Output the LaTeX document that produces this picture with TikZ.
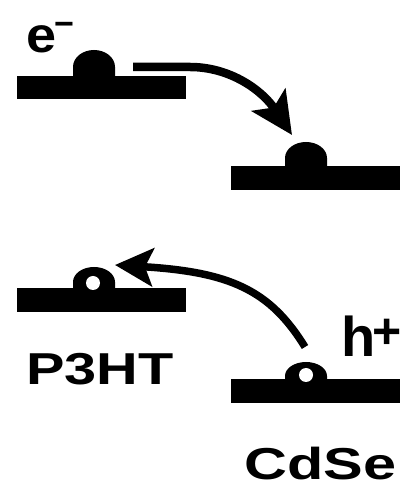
\documentclass[tikz,border=0pt]{standalone}
\usepackage{fontspec}
\usepackage{graphicx}
\setmainfont{Liberation Sans}
\usetikzlibrary{arrows.meta}

% energy-level bar with a carrier dome on top
\tikzset{
  level/.style={rectangle, fill=black, draw=none, inner sep=0pt,
    minimum width=169pt, minimum height=23.5pt},
  pics/dome/.style n args={2}{code={
    \fill (-21pt,0pt) -- (-21pt,#1) arc[start angle=180, end angle=0,
      x radius=21pt, y radius=#2] -- (21pt,0pt) -- cycle;}},
  hole/.style={circle, fill=white, draw=none, inner sep=0pt, minimum size=14pt},
  hop/.style={line width=#1, line cap=butt},
  bighead/.style={-{Stealth[length=42pt, width=40pt, inset=9pt]}},
  smallhead/.style={-{Stealth[length=38pt, width=38pt, inset=8pt]}},
  lbl/.style={inner sep=0pt, anchor=base west, font=\bfseries},
}

\begin{document}
\begin{tikzpicture}[x=1pt, y=1pt]
\useasboundingbox (0,0) rectangle (401,495);
\fill[white] (0,0) rectangle (401,495);

% LUMO levels
\node[level] (lumoP) at (101.5,407.5) {};
\node[level] (lumoC) at (315,317) {};
% HOMO levels
\node[level] (homoP) at (101.5,195) {};
\node[level] (homoC) at (315,104) {};

% electrons (filled domes)
\pic at (94,419) {dome={9pt}{17pt}};
\pic at (306,329) {dome={8pt}{16pt}};
% holes (domes with an open circle)
\pic at (94,207) {dome={6pt}{15pt}};
\node[hole] (hP) at (93,212) {};
\pic at (306,115) {dome={4pt}{14pt}};
\node[hole] (hC) at (306,120) {};

% transfer arrows
\coordinate (eStart) at (133,428);
\coordinate (eEnd) at (292,360);
\draw[hop=8.5pt, bighead] (eStart) -- (190,428)
  .. controls (230,428) and (262,405) .. (eEnd);

\coordinate (hStart) at (305,148);
\coordinate (hEnd) at (115,230);
\draw[hop=7.5pt, smallhead] (hStart) .. controls (270,205) and (230,223) .. (hEnd);

% labels
\node[lbl] (eLbl) at (26,442) {\scalebox{1.08}[1]{\fontsize{50}{50}\selectfont e}\kern-2pt\raisebox{17.5pt}{\fontsize{34}{34}\selectfont −}};
\node[lbl] (hLbl) at (341,138) {\fontsize{56}{56}\selectfont h\kern-3pt\raisebox{8pt}{\fontsize{50}{50}\selectfont +}};
\node[lbl] (p3ht) at (26,110) {\scalebox{1.29}[1]{\fontsize{44.7}{44.7}\selectfont P3HT}};
\node[lbl] (cdse) at (244,16) {\scalebox{1.33}[1]{\fontsize{44.7}{44.7}\selectfont CdSe}};
\end{tikzpicture}
\end{document}
